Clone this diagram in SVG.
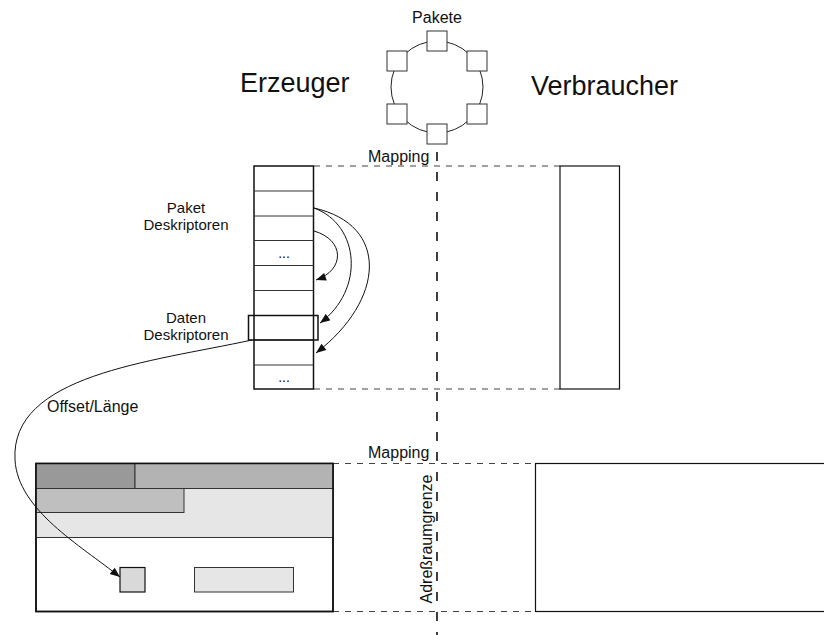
<svg xmlns="http://www.w3.org/2000/svg" width="824" height="635" viewBox="0 0 824 635">
<style>
text{font-family:"Liberation Sans",Arial,sans-serif;fill:#111}
.big{font-size:27px}
.sm{font-size:16px}
.lbl{font-size:15px}
.dash{stroke:#444;stroke-width:1.2;stroke-dasharray:6,6;fill:none}
.vdash{stroke:#111;stroke-width:1.6;stroke-dasharray:9,11;fill:none}
.box{fill:#fff;stroke:#111;stroke-width:1.5}
.row{stroke:#333;stroke-width:1}
.conn{fill:none;stroke:#111;stroke-width:1}
.pk{fill:#fff;stroke:#333;stroke-width:1}
</style>
<defs>
<marker id="ah" viewBox="0 0 10 8" refX="10" refY="4" markerWidth="11" markerHeight="8" markerUnits="userSpaceOnUse" orient="auto">
<path d="M0,0 L10,4 L0,8 Z" fill="#111"/>
</marker>
</defs>
<rect width="824" height="635" fill="#fff"/>

<g id="titles">
<text class="big" x="240" y="92">Erzeuger</text>
<text class="big" x="531" y="95">Verbraucher</text>
</g>

<g id="pakete">
<text class="sm" x="437" y="23" text-anchor="middle">Pakete</text>
<circle cx="437" cy="87" r="46" fill="none" stroke="#222" stroke-width="1"/>
<rect class="pk" x="427" y="31" width="20" height="20"/>
<rect class="pk" x="387" y="51" width="20" height="20"/>
<rect class="pk" x="467" y="51" width="20" height="20"/>
<rect class="pk" x="387" y="104" width="20" height="20"/>
<rect class="pk" x="467" y="104" width="20" height="20"/>
<rect class="pk" x="427" y="124" width="20" height="20"/>
</g>

<g id="grenze">
<line class="vdash" x1="437" y1="152" x2="437" y2="635"/>
<text class="sm" transform="translate(432,539) rotate(-90)" text-anchor="middle">Adreßraumgrenze</text>
</g>

<g id="mapping-lines">
<line class="dash" x1="314" y1="166" x2="560" y2="166"/>
<line class="dash" x1="314" y1="389" x2="560" y2="389"/>
<line class="dash" x1="333" y1="463.5" x2="535" y2="463.5"/>
<line class="dash" x1="333" y1="611.5" x2="535" y2="611.5"/>
<text class="sm" x="368" y="162">Mapping</text>
<text class="sm" x="368" y="458">Mapping</text>
</g>

<g id="deskriptoren">
<rect class="box" x="254" y="166" width="59.5" height="223"/>
<line class="row" x1="254" y1="191" x2="313.5" y2="191"/>
<line class="row" x1="254" y1="216" x2="313.5" y2="216"/>
<line class="row" x1="254" y1="240.5" x2="313.5" y2="240.5"/>
<line class="row" x1="254" y1="265.5" x2="313.5" y2="265.5"/>
<line class="row" x1="254" y1="290.5" x2="313.5" y2="290.5"/>
<line class="row" x1="254" y1="340" x2="313.5" y2="340"/>
<line class="row" x1="254" y1="365" x2="313.5" y2="365"/>
<rect x="248.5" y="315.5" width="69.5" height="24.5" fill="none" stroke="#111" stroke-width="1.5"/>
<text x="284" y="258" font-size="14" text-anchor="middle">...</text>
<text x="284" y="382" font-size="14" text-anchor="middle">...</text>
<text class="lbl" x="186" y="213" text-anchor="middle">Paket</text>
<text class="lbl" x="186" y="230" text-anchor="middle">Deskriptoren</text>
<text class="lbl" x="186" y="323" text-anchor="middle">Daten</text>
<text class="lbl" x="186" y="340" text-anchor="middle">Deskriptoren</text>
</g>

<g id="verbraucher-deskriptoren">
<rect x="560" y="166" width="59.5" height="223" fill="#fff" stroke="#111" stroke-width="1.2"/>
</g>

<g id="erzeuger-speicher">
<rect x="36" y="463.5" width="297" height="148" fill="#fff" stroke="#111" stroke-width="1.5"/>
<rect x="36" y="488.5" width="297" height="49" fill="#e6e6e6" stroke="#333" stroke-width="1"/>
<rect x="36" y="463.5" width="99" height="25" fill="#999" stroke="#333" stroke-width="1"/>
<rect x="135" y="463.5" width="198" height="25" fill="#b3b3b3" stroke="#333" stroke-width="1"/>
<rect x="36" y="488.5" width="148" height="24" fill="#bfbfbf" stroke="#333" stroke-width="1"/>
<rect x="120" y="567.5" width="25" height="24.5" fill="#d9d9d9" stroke="#111" stroke-width="1.2"/>
<rect x="194.5" y="567.5" width="99" height="24.5" fill="#e6e6e6" stroke="#333" stroke-width="1"/>
<rect x="36" y="463.5" width="297" height="148" fill="none" stroke="#111" stroke-width="1.5"/>
</g>

<g id="verbraucher-speicher">
<rect x="535.5" y="463.5" width="400" height="148" fill="#fff" stroke="#111" stroke-width="1.2"/>
</g>

<g id="connectors">
<path class="conn" d="M314 231 C345 240 345 270 316 280" marker-end="url(#ah)"/>
<path class="conn" d="M314 208 C360 225 365 290 320 323" marker-end="url(#ah)"/>
<path class="conn" d="M314 208 C390 225 385 300 316 353" marker-end="url(#ah)"/>
<path class="conn" d="M252 340 C150 362 10 375 15 460 C18 510 80 545 120 577" marker-end="url(#ah)"/>
<text class="sm" x="47" y="412">Offset/Länge</text>
</g>
</svg>
